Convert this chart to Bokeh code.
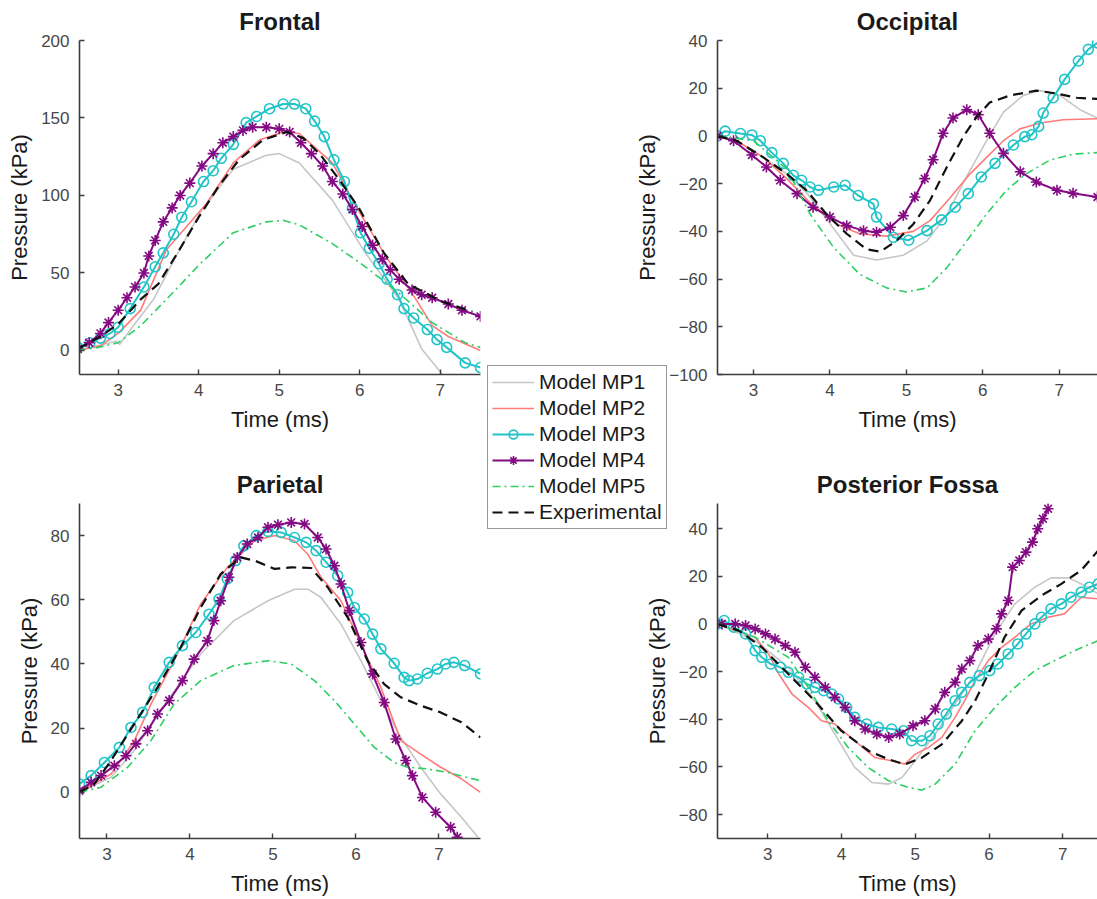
from bokeh.plotting import figure
from bokeh.models import Range1d, FixedTicker, Legend, LegendItem, GridBox
from bokeh.embed import file_html
from bokeh.resources import INLINE

# ---------------- data (time in ms, pressure in kPa) ----------------
series_names = ["Model MP1", "Model MP2", "Model MP3", "Model MP4", "Model MP5", "Experimental"]
time_ticks = [3, 4, 5, 6, 7]

# Frontal
fr_mp1_t = [2.5, 2.75, 2.97, 3.02, 3.19, 3.44, 3.7, 4.02, 4.43, 4.84, 5.0, 5.25, 5.66, 6.07, 6.49, 6.77, 7.02]
fr_mp1_p = [0, 3, 6, 4, 16, 33, 59, 89, 117, 126, 127, 121, 97, 63, 33, 1, -15]
fr_mp2_t = [2.5, 2.78, 3.0, 3.28, 3.6, 3.85, 4.1, 4.43, 4.76, 5.05, 5.25, 5.66, 6.0, 6.32, 6.65, 6.9, 7.1, 7.5]
fr_mp2_p = [0, 3, 11, 26, 65, 80, 95, 121, 136, 141, 140, 121, 89, 61, 37, 16, 9, 0]
fr_mp3_t = [2.5, 2.65, 2.78, 2.9, 3.0, 3.15, 3.32, 3.46, 3.56, 3.69, 3.79, 3.91, 4.06, 4.18, 4.28, 4.43, 4.59,
            4.72, 4.88, 5.05, 5.19, 5.33, 5.44, 5.56, 5.68, 5.81, 5.91, 6.01, 6.12, 6.24, 6.34, 6.47, 6.55,
            6.67, 6.84, 6.96, 7.08, 7.31, 7.5]
fr_mp3_p = [2, 5, 8, 11, 15, 27, 41, 54, 63, 75, 86, 96, 109, 116, 124, 133, 147, 151, 156, 159, 159, 156,
            148, 138, 123, 109, 92, 76, 66, 56, 46, 36, 27, 21, 13.5, 7, 2, -8, -11]
fr_mp4_t = [2.5, 2.64, 2.78, 2.88, 3.0, 3.11, 3.21, 3.32, 3.38, 3.46, 3.56, 3.67, 3.77, 3.89, 4.04, 4.18, 4.3,
            4.43, 4.55, 4.67, 4.84, 5.0, 5.13, 5.27, 5.4, 5.54, 5.66, 5.79, 5.91, 6.03, 6.16, 6.28, 6.38, 6.49,
            6.65, 6.77, 6.9, 7.1, 7.27, 7.5]
fr_mp4_p = [1, 5, 11, 18, 26, 34, 41, 50, 61, 71, 83, 92, 100, 108, 119, 127, 134, 138, 142, 144, 144, 143,
            141, 134, 127, 119, 109, 101, 91, 80, 68, 59, 52, 46, 39, 36, 34, 30, 26, 22]
fr_mp5_t = [2.5, 2.75, 3.0, 3.28, 3.6, 4.02, 4.43, 4.84, 5.05, 5.25, 5.66, 6.07, 6.49, 6.9, 7.31, 7.5]
fr_mp5_p = [0, 2, 5, 16, 33, 56, 76, 83, 84, 81, 69, 54, 37, 18, 5, 2]
fr_exp_t = [2.5, 2.78, 3.0, 3.28, 3.5, 3.75, 4.0, 4.25, 4.5, 4.8, 5.1, 5.3, 5.5, 5.75, 6.0, 6.3, 6.6, 7.0, 7.4]
fr_exp_p = [1, 9, 17, 33, 43, 64, 86, 106, 123, 136, 141, 137, 127, 110, 91, 63, 43, 32, 25]

# Occipital
oc_mp1_t = [2.53, 2.78, 3.13, 3.44, 3.7, 3.96, 4.31, 4.61, 4.96, 5.27, 5.53, 5.79, 6.05, 6.27, 6.53, 6.75, 7.01, 7.27, 7.5]
oc_mp1_p = [0, -2, -9, -16, -24, -35, -50, -52, -50, -44, -33, -17, -2, 10, 17, 19, 17, 11, 7.5]
oc_mp2_t = [2.53, 2.78, 3.13, 3.44, 3.74, 4.09, 4.39, 4.74, 5.09, 5.31, 5.57, 5.83, 6.05, 6.27, 6.49, 6.75, 7.05, 7.5]
oc_mp2_p = [0, -2, -9, -18, -28, -37, -41, -42, -40, -35.5, -26, -16, -9, -2, 3, 5.4, 6.8, 7.2]
oc_mp3_t = [2.53, 2.63, 2.83, 2.98, 3.09, 3.24, 3.39, 3.52, 3.63, 3.74, 3.85, 4.05, 4.2, 4.37, 4.57, 4.61, 4.83,
            5.03, 5.27, 5.46, 5.64, 5.81, 5.98, 6.16, 6.4, 6.55, 6.64, 6.73, 6.79, 6.92, 7.07, 7.25, 7.38, 7.5]
oc_mp3_p = [0, 2, 1, 0.4, -2, -7, -11.5, -16.5, -18.6, -21.4, -22.8, -21.4, -20.7, -25, -28.5, -34, -42.5,
            -43.7, -39.7, -35.2, -29.9, -24.2, -17.2, -11.5, -3.8, -0.3, 0.5, 4, 9.6, 16, 23.7, 31.4, 36.3, 39]
oc_mp4_t = [2.53, 2.74, 2.98, 3.17, 3.35, 3.57, 3.78, 4.0, 4.22, 4.44, 4.61, 4.79, 4.96, 5.11, 5.24, 5.35, 5.48,
            5.61, 5.79, 5.94, 6.09, 6.27, 6.49, 6.7, 6.97, 7.18, 7.5]
oc_mp4_p = [0, -2, -8, -13, -18.6, -24.2, -29.9, -34, -37.6, -39.7, -40.4, -38.3, -33.4, -25.6, -17.9, -10, 1.1,
            7.5, 11, 8.9, 1.1, -7.3, -15, -19.3, -22.8, -24, -25.6]
oc_mp5_t = [2.53, 3.0, 3.44, 3.74, 4.05, 4.39, 4.74, 5.0, 5.27, 5.53, 5.79, 6.05, 6.31, 6.57, 6.88, 7.18, 7.5]
oc_mp5_p = [0, -2, -14, -32.7, -46.8, -58, -63.7, -65.4, -63.7, -55.2, -44, -32.7, -22.8, -15.8, -10.1, -7.6, -7]
oc_exp_t = [2.53, 2.78, 3.13, 3.44, 3.7, 3.96, 4.22, 4.48, 4.66, 4.87, 5.09, 5.31, 5.53, 5.75, 5.92, 6.09, 6.36,
            6.7, 6.92, 7.23, 7.5]
oc_exp_p = [0, -2, -9, -16, -23, -33, -41, -47.5, -48.5, -44, -37, -27, -13, 0, 8, 14, 17, 19, 18, 16, 15.5]

# Parietal
pa_mp1_t = [2.67, 3.05, 3.33, 3.73, 4.13, 4.53, 4.94, 5.26, 5.42, 5.58, 5.82, 6.06, 6.3, 6.54, 6.78, 7.02, 7.27, 7.47]
pa_mp1_p = [0, 4.7, 13, 28.6, 43.1, 53.5, 59.7, 63.3, 63.3, 60.7, 52.4, 41, 28.6, 17.1, 7.8, -0.5, -7.8, -14]
pa_mp2_t = [2.67, 3.05, 3.33, 3.53, 3.81, 4.13, 4.45, 4.78, 5.02, 5.26, 5.42, 5.58, 5.82, 6.06, 6.3, 6.54, 6.78,
            7.02, 7.27, 7.5]
pa_mp2_p = [0, 5.7, 16, 27.5, 41, 58.7, 70.1, 78.4, 80, 78.4, 74.2, 67, 59.7, 46.2, 32.7, 16.1, 11.9, 7.8, 4.2, 0]
pa_mp3_t = [2.67, 2.81, 2.97, 3.15, 3.29, 3.43, 3.57, 3.75, 3.91, 4.07, 4.23, 4.35, 4.45, 4.55, 4.65, 4.8, 4.94,
            5.1, 5.26, 5.4, 5.52, 5.64, 5.78, 5.9, 5.98, 6.1, 6.2, 6.3, 6.46, 6.58, 6.64, 6.74, 6.86, 6.98, 7.08,
            7.18, 7.31, 7.5]
pa_mp3_p = [2.6, 5.2, 9.3, 14, 20.2, 24.9, 32.7, 40.5, 45.7, 49.8, 55.5, 60.2, 66.5, 72.2, 76.8, 80, 81.3, 81,
            79.4, 77.9, 75.3, 71.7, 67.5, 62.3, 57.6, 54, 49.3, 44.7, 40.2, 35.8, 34.8, 35.3, 37.1, 38.4, 40,
            40.5, 39.5, 36.9]
pa_mp4_t = [2.67, 2.81, 2.93, 3.09, 3.23, 3.35, 3.49, 3.61, 3.75, 3.91, 4.05, 4.21, 4.29, 4.37, 4.47, 4.57, 4.69,
            4.82, 4.94, 5.06, 5.22, 5.38, 5.54, 5.64, 5.74, 5.82, 5.92, 6.06, 6.2, 6.34, 6.48, 6.6, 6.68, 6.8,
            6.96, 7.14, 7.22]
pa_mp4_p = [0.5, 3.1, 5.2, 8.3, 11.4, 15.1, 19.2, 24.4, 28.6, 34.8, 41.5, 47.2, 53.5, 59.7, 67, 73.2, 77.4, 79.4,
            82.6, 83.4, 84.1, 83.6, 79.4, 75.8, 70.6, 64.9, 56.6, 46.7, 36.9, 28, 16.6, 9.9, 5.2, -1.6, -6.2,
            -10.9, -14]
pa_mp5_t = [2.67, 2.93, 3.25, 3.53, 3.81, 4.13, 4.53, 4.94, 5.22, 5.5, 5.74, 5.98, 6.22, 6.46, 6.62, 6.86, 7.1, 7.5]
pa_mp5_p = [0, 1.6, 7.8, 16.1, 27.5, 34.8, 39.5, 41, 40, 34.8, 28.6, 21.3, 14, 9.3, 7.8, 7.3, 6.2, 3.6]
pa_exp_t = [2.67, 2.85, 3.05, 3.33, 3.61, 3.89, 4.13, 4.37, 4.61, 4.78, 5.02, 5.22, 5.46, 5.66, 5.9, 6.14, 6.34,
            6.54, 6.78, 7.02, 7.27, 7.5]
pa_exp_p = [0, 2.6, 9.9, 21.3, 32.7, 45.2, 57.6, 68, 73.2, 72.2, 69.6, 70.1, 69.9, 63.9, 54.5, 41, 33.7, 29.6,
            27, 24.9, 21.8, 17.1]

# Posterior Fossa
pf_mp1_t = [2.32, 2.83, 3.28, 3.64, 3.91, 4.18, 4.41, 4.64, 4.82, 5.0, 5.27, 5.54, 5.81, 6.08, 6.35, 6.62, 6.84,
            7.07, 7.25, 7.48]
pf_mp1_p = [0, -7, -18.2, -32.3, -46.2, -60.2, -66.5, -67.2, -64.4, -57.4, -46.2, -33.6, -21, -4.2, 8.4, 15.4,
            19.3, 19.3, 16.8, 12.6]
pf_mp2_t = [2.32, 2.83, 3.01, 3.15, 3.33, 3.55, 3.73, 3.91, 4.18, 4.45, 4.68, 4.86, 5.0, 5.18, 5.36, 5.54, 5.67,
            5.81, 5.99, 6.17, 6.35, 6.57, 6.8, 7.02, 7.25, 7.48]
pf_mp2_p = [0, -5.6, -12.6, -21, -29.4, -35, -40.6, -42, -49, -56, -57.4, -58.8, -54.6, -51.8, -47.6, -39.2,
            -32.2, -23.8, -15.4, -9.8, -5.6, 0, 2.8, 4.2, 11.2, 10.5]
pf_mp3_t = [2.32, 2.41, 2.54, 2.7, 2.83, 2.92, 3.04, 3.17, 3.28, 3.42, 3.53, 3.64, 3.76, 3.87, 3.96, 4.07, 4.18,
            4.34, 4.5, 4.68, 4.84, 4.95, 5.09, 5.2, 5.31, 5.42, 5.54, 5.63, 5.74, 5.87, 6.01, 6.12, 6.26, 6.39,
            6.5, 6.62, 6.71, 6.84, 6.98, 7.11, 7.25, 7.36, 7.48]
pf_mp3_p = [0, 1.4, -1.4, -4.2, -11.2, -14, -16.8, -18.2, -20.3, -22.4, -25.2, -26.6, -28, -29.4, -31.5, -35,
            -39.2, -42, -43.4, -44.1, -44.8, -49, -49, -46.9, -42, -37.8, -32.2, -28.7, -24.5, -21.7, -19.6,
            -16.8, -12.6, -8.4, -4.2, 0, 2.8, 6.3, 8.4, 11.2, 13.3, 15.4, 16.8]
pf_mp4_t = [2.38, 2.56, 2.7, 2.83, 2.97, 3.1, 3.24, 3.37, 3.51, 3.64, 3.78, 3.91, 4.05, 4.18, 4.32, 4.48, 4.64,
            4.79, 4.97, 5.13, 5.27, 5.4, 5.54, 5.63, 5.74, 5.85, 5.99, 6.1, 6.17, 6.26, 6.32, 6.41, 6.5, 6.59,
            6.66, 6.73, 6.8]
pf_mp4_p = [0, 0, -0.7, -2.1, -4.2, -6.3, -9.1, -11.9, -18.2, -22.4, -26.6, -30.8, -35, -40.6, -44.1, -46.2,
            -47.6, -46.2, -42.7, -40.6, -35.7, -28.7, -24.5, -18.9, -15.4, -9.1, -6.3, -2.1, 4.2, 9.8, 23.8, 26.6,
            30.1, 34.3, 39.9, 44.1, 48.3]
pf_mp5_t = [2.32, 2.83, 3.28, 3.55, 3.82, 4.09, 4.36, 4.64, 4.91, 5.09, 5.27, 5.54, 5.81, 6.08, 6.35, 6.62, 6.89,
            7.16, 7.48]
pf_mp5_p = [0, -5.6, -14, -26.6, -40.6, -51.8, -60.2, -65.8, -68.6, -69.7, -67.2, -58.8, -44.8, -35, -26.6,
            -19.6, -15.4, -11.2, -7]
pf_exp_t = [2.32, 2.61, 2.92, 3.28, 3.64, 4.0, 4.37, 4.64, 4.86, 5.09, 5.36, 5.63, 5.81, 5.99, 6.21, 6.44, 6.71,
            6.98, 7.25, 7.48]
pf_exp_p = [0, -2.8, -9.8, -21, -32.3, -44.9, -53.3, -56.8, -58.9, -56.1, -50.5, -40.7, -32.3, -21, -5.6, 5.6,
            11.9, 16.8, 22.5, 30.8]

frontal_yticks = [0, 50, 100, 150, 200]
occipital_yticks = [-100, -80, -60, -40, -20, 0, 20, 40]
parietal_yticks = [0, 20, 40, 60, 80]
fossa_yticks = [-80, -60, -40, -20, 0, 20, 40]

# ---------------- styles ----------------
GRAY = "#c6c6c6"
RED = "#ff7b7b"
CYAN = "#22c4c8"
PURPLE = "#830a83"
GREEN = "#2dce63"
BLACK = "#111111"
FONT = "Liberation Sans"


def style_line(p, kind, t, v):
    if kind == 0:
        return [p.line(t, v, line_color=GRAY, line_width=1.6)]
    if kind == 1:
        return [p.line(t, v, line_color=RED, line_width=1.6)]
    if kind == 2:
        return [p.line(t, v, line_color=CYAN, line_width=2),
                p.scatter(t, v, marker="circle", size=10, fill_color=None, line_color=CYAN, line_width=1.6)]
    if kind == 3:
        return [p.line(t, v, line_color=PURPLE, line_width=2),
                p.scatter(t, v, marker="asterisk", size=11, line_color=PURPLE, line_width=1.6)]
    if kind == 4:
        return [p.line(t, v, line_color=GREEN, line_width=1.6, line_dash="8 4 2 4")]
    return [p.line(t, v, line_color=BLACK, line_width=2.2, line_dash="10 6")]


def panel(title, xr, yr, yticks, w, h, bl, br, bt, bb, series):
    p = figure(width=w, height=h, x_range=Range1d(*xr), y_range=Range1d(*yr),
               toolbar_location=None, output_backend="svg", title=title,
               min_border_left=bl, min_border_right=br, min_border_top=bt, min_border_bottom=bb)
    p.outline_line_color = None
    p.grid.visible = False
    p.title.text_font = FONT
    p.title.text_font_size = "24px"
    p.title.text_font_style = "bold"
    p.title.text_color = "#1a1a1a"
    p.title.align = "center"
    p.title.standoff = 11
    for ax in (p.xaxis[0], p.yaxis[0]):
        ax.axis_line_color = "#3c3c3c"
        ax.axis_line_width = 1.6
        ax.major_tick_line_color = "#3c3c3c"
        ax.major_tick_line_width = 1.4
        ax.major_tick_in = 5
        ax.major_tick_out = 0
        ax.minor_tick_in = 0
        ax.minor_tick_out = 0
        ax.major_label_text_font = FONT
        ax.major_label_text_font_size = "17px"
        ax.major_label_text_color = "#474747"
        ax.axis_label_text_font = FONT
        ax.axis_label_text_font_size = "22px"
        ax.axis_label_text_font_style = "normal"
        ax.axis_label_text_color = "#1a1a1a"
    p.xaxis.ticker = FixedTicker(ticks=time_ticks)
    p.yaxis.ticker = FixedTicker(ticks=yticks)
    p.xaxis.axis_label = "Time (ms)"
    p.yaxis.axis_label = "Pressure (kPa)"
    p.xaxis.major_label_standoff = 9
    p.xaxis.axis_label_standoff = 8
    p.yaxis.major_label_standoff = 10
    p.yaxis.axis_label_standoff = 6
    for k, (t, v) in enumerate(series):
        style_line(p, k, t, v)
    return p


frontal_series = [(fr_mp1_t, fr_mp1_p), (fr_mp2_t, fr_mp2_p), (fr_mp3_t, fr_mp3_p),
                  (fr_mp4_t, fr_mp4_p), (fr_mp5_t, fr_mp5_p), (fr_exp_t, fr_exp_p)]

p1 = panel("Frontal", (2.52, 7.5), (-15.5, 200), frontal_yticks, 487, 450, 79, 4, 40, 75, frontal_series)
p2 = panel("Occipital", (2.53, 7.5), (-100, 40), occipital_yticks, 610, 450, 230, 0, 40, 76,
           [(oc_mp1_t, oc_mp1_p), (oc_mp2_t, oc_mp2_p), (oc_mp3_t, oc_mp3_p),
            (oc_mp4_t, oc_mp4_p), (oc_mp5_t, oc_mp5_p), (oc_exp_t, oc_exp_p)])
p3 = panel("Parietal", (2.67, 7.5), (-14.4, 90), parietal_yticks, 487, 449, 79, 7, 53, 61,
           [(pa_mp1_t, pa_mp1_p), (pa_mp2_t, pa_mp2_p), (pa_mp3_t, pa_mp3_p),
            (pa_mp4_t, pa_mp4_p), (pa_mp5_t, pa_mp5_p), (pa_exp_t, pa_exp_p)])
p4 = panel("Posterior Fossa", (2.32, 7.47), (-90, 50.5), fossa_yticks, 610, 449, 229, 0, 53, 61,
           [(pf_mp1_t, pf_mp1_p), (pf_mp2_t, pf_mp2_p), (pf_mp3_t, pf_mp3_p),
            (pf_mp4_t, pf_mp4_p), (pf_mp5_t, pf_mp5_p), (pf_exp_t, pf_exp_p)])

# ---------------- shared legend on a transparent overlay ----------------
# the overlay's ranges exclude the data, so its renderers only supply legend swatches
ov = figure(width=1097, height=899, x_range=Range1d(0, 1), y_range=Range1d(0, 1),
            x_axis_type=None, y_axis_type=None, toolbar_location=None, output_backend="svg",
            min_border=0, title=None)
ov.outline_line_color = None
ov.background_fill_color = None
ov.border_fill_color = None
items = []
for k, name in enumerate(series_names):
    t, v = frontal_series[k]
    rs = style_line(ov, k, t, v)
    items.append(LegendItem(label=name, renderers=rs))
leg = Legend(items=items, location=(408, 309))
leg.border_line_color = "#333333"
leg.border_line_width = 1
leg.background_fill_color = "white"
leg.background_fill_alpha = 1
leg.label_text_font = FONT
leg.label_text_font_size = "21px"
leg.label_text_color = "#1a1a1a"
leg.glyph_width = 42
leg.glyph_height = 22
leg.label_height = 22
leg.label_standoff = 5
leg.spacing = 2
leg.padding = 4
leg.margin = 0
ov.add_layout(leg)

grid = GridBox(children=[(p1, 0, 0), (p2, 0, 1), (p3, 1, 0), (p4, 1, 1), (ov, 0, 0, 2, 2)])

open("out.html", "w").write(file_html(grid, INLINE))
